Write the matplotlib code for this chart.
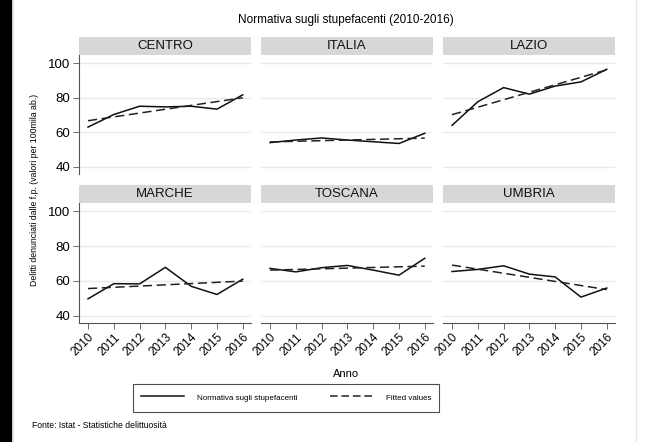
import matplotlib
matplotlib.use("Agg")
import matplotlib.pyplot as plt
from matplotlib.patches import Rectangle
from matplotlib.lines import Line2D

plt.rcParams['font.family'] = ['Liberation Sans', 'DejaVu Sans']

# Data
years = [2010, 2011, 2012, 2013, 2014, 2015, 2016]
regions = ['CENTRO', 'ITALIA', 'LAZIO', 'MARCHE', 'TOSCANA', 'UMBRIA']
centro = [63.0, 70.3, 75.1, 74.7, 75.1, 73.4, 81.7]
italia = [54.0, 55.5, 56.7, 55.5, 54.5, 53.5, 59.4]
lazio = [64.0, 77.7, 85.9, 82.1, 86.8, 89.2, 96.5]
marche = [49.7, 58.4, 58.3, 67.8, 56.9, 52.2, 61.0]
toscana = [67.2, 65.2, 67.6, 68.9, 66.2, 63.3, 73.0]
umbria = [65.4, 66.6, 68.7, 63.9, 62.3, 50.7, 55.9]
# fitted values (linear fit) at 2010 and 2016
fit_start = [66.7, 54.4, 70.2, 55.6, 66.2, 69.1]
fit_end = [80.0, 56.6, 96.2, 59.9, 68.5, 55.0]
series = [centro, italia, lazio, marche, toscana, umbria]

W, H = 664, 442
fig = plt.figure(figsize=(W / 100, H / 100), dpi=100)

# screenshot frame on the left
fig.patches.append(Rectangle((0, 0), 11 / W, 1, transform=fig.transFigure,
                             color='black', zorder=0))
fig.add_artist(Line2D([13 / W, 13 / W], [0, 1], color='#e4e4e4', lw=0.8))
fig.add_artist(Line2D([636 / W, 636 / W], [0, 1], color='#e4e4e4', lw=0.8))

col_x = [79, 261, 443]
pw = 172
rows = [(55, 174), (203, 323)]
strip_h = 18

for i, name in enumerate(regions):
    r, c = divmod(i, 3)
    top, bot = rows[r]
    ax = fig.add_axes([col_x[c] / W, 1 - bot / H, pw / W, (bot - top) / H])
    ax.set_xlim(2009.65, 2016.32)
    ax.set_ylim(35.8, 104.8)
    ax.set_yticks([40, 60, 80, 100])
    ax.grid(axis='y', color='#eaeaea', lw=1.0)
    ax.set_axisbelow(True)
    for s in ['top', 'right']:
        ax.spines[s].set_visible(False)
    ax.plot(years, series[i], color='#111111', lw=1.1)
    ax.plot([years[0], years[-1]], [fit_start[i], fit_end[i]],
            color='#222222', lw=1.1, dashes=(6, 3))
    # strip title
    sh = strip_h / (bot - top)
    ax.add_patch(Rectangle((0, 1.0), 1, sh, transform=ax.transAxes,
                           facecolor='#d7d7d7', edgecolor='none', clip_on=False))
    ax.text(0.5, 1 + sh / 2, name, transform=ax.transAxes, ha='center',
            va='center', fontsize=9.5, color='#111111')
    if c == 0:
        ax.spines['left'].set_color('#555555')
        ax.spines['left'].set_linewidth(0.8)
        ax.tick_params(axis='y', labelsize=9.5, length=4.5, width=0.6,
                       color='#555555', pad=2)
    else:
        ax.spines['left'].set_visible(False)
        ax.tick_params(axis='y', left=False, labelleft=False)
    if r == 1:
        ax.set_xticks(years)
        ax.set_xticklabels([str(y) for y in years], rotation=45, ha='right',
                           rotation_mode='anchor', fontsize=8.5)
        ax.spines['bottom'].set_color('#555555')
        ax.spines['bottom'].set_linewidth(0.8)
        ax.tick_params(axis='x', length=4, width=0.6, color='#555555', pad=2)
    else:
        ax.spines['bottom'].set_visible(False)
        ax.tick_params(axis='x', bottom=False, labelbottom=False)

fig.text(346 / W, 1 - 20 / H, 'Normativa sugli stupefacenti (2010-2016)',
         ha='center', va='center', fontsize=8.5)
fig.text(35 / W, 1 - 190 / H,
         'Delitti denunciati dalle f.p. (valori per 100mila ab.)',
         rotation=90, ha='center', va='center', fontsize=6.3)
fig.text(346 / W, 1 - 374 / H, 'Anno', ha='center', va='center', fontsize=8)
fig.text(32 / W, 1 - 425 / H, 'Fonte: Istat - Statistiche delittuosità',
         ha='left', va='center', fontsize=6.2)

# legend box
handles = [Line2D([], [], color='#111111', lw=1.1),
           Line2D([], [], color='#222222', lw=1.1, dashes=(5, 2.5))]
leg = fig.legend(handles, ['Normativa sugli stupefacenti', 'Fitted values'],
                 loc='center', bbox_to_anchor=(286 / W, 1 - 398 / H),
                 ncol=2, fontsize=5.8, frameon=True, fancybox=False,
                 edgecolor='#222222', handlelength=5.4, handleheight=2.3,
                 columnspacing=4.0, borderpad=0.9, handletextpad=1.6)
leg.get_frame().set_linewidth(0.8)

fig.savefig('out.png', dpi=100)
